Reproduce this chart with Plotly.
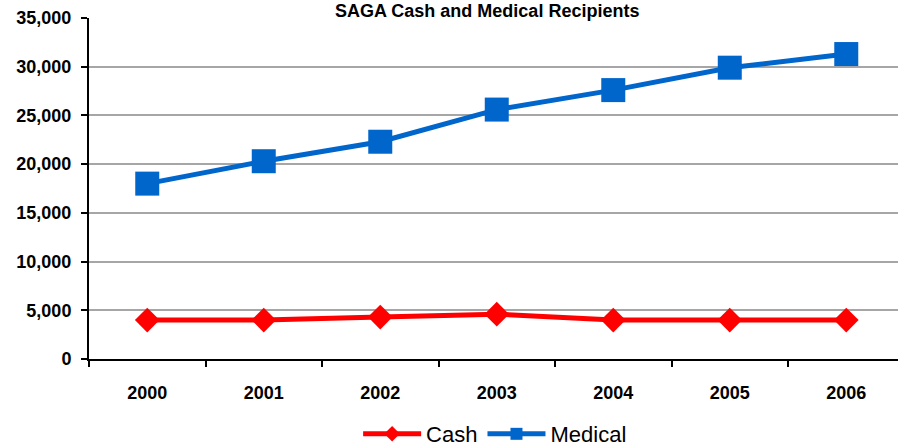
import plotly.graph_objects as go

years = ["2000", "2001", "2002", "2003", "2004", "2005", "2006"]
cash = [4000, 4000, 4300, 4600, 4000, 4000, 4000]
medical = [18000, 20300, 22300, 25600, 27600, 29900, 31300]
y_ticks = [0, 5000, 10000, 15000, 20000, 25000, 30000, 35000]
title = "SAGA Cash and Medical Recipients"

FONT = "Liberation Sans, Arial, sans-serif"

fig = go.Figure()
fig.add_trace(go.Scatter(
    x=years, y=cash, name="Cash", mode="lines+markers",
    line=dict(color="#ff0000", width=5),
    marker=dict(symbol="diamond", size=19, color="#ff0000"),
))
fig.add_trace(go.Scatter(
    x=years, y=medical, name="Medical", mode="lines+markers",
    line=dict(color="#0066cc", width=5),
    marker=dict(symbol="square", size=24, color="#0066cc"),
))

fig.update_layout(
    width=898, height=448,
    margin=dict(l=89, r=0, t=18, b=89, autoexpand=False),
    plot_bgcolor="white", paper_bgcolor="white",
    font=dict(family=FONT, color="black"),
    showlegend=True,
    legend=dict(orientation="h", x=0.502, xanchor="center", y=-0.22, yanchor="middle",
                font=dict(size=22), tracegroupgap=0, itemwidth=58,
                itemsizing="constant"),
    xaxis=dict(
        type="category", range=[-0.5, 6.444], automargin=False,
        showline=True, linecolor="black", linewidth=2,
        ticks="outside", ticklen=6, tickwidth=1.5, tickcolor="black",
        tickson="boundaries", showgrid=False, ticklabelstandoff=16,
        tickfont=dict(size=18, family=FONT, weight="bold"),
    ),
    yaxis=dict(
        range=[0, 35000], tickvals=y_ticks, tickformat=",", automargin=False,
        showline=True, linecolor="black", linewidth=2,
        ticks="outside", ticklen=6, tickwidth=1.5, tickcolor="black",
        showgrid=True, gridcolor="#a6a6a6", gridwidth=2,
        zeroline=False, ticklabelstandoff=6,
        tickfont=dict(size=18, family=FONT, weight="bold"),
    ),
    annotations=[dict(
        text="<b>" + title + "</b>", xref="paper", yref="paper",
        x=0.492, y=1.0, yshift=19, yanchor="top", showarrow=False,
        font=dict(size=18),
    )],
)

fig.write_html("out.html", config={"displayModeBar": False},
               post_script="document.body.style.margin='0';document.body.style.overflow='hidden';")
